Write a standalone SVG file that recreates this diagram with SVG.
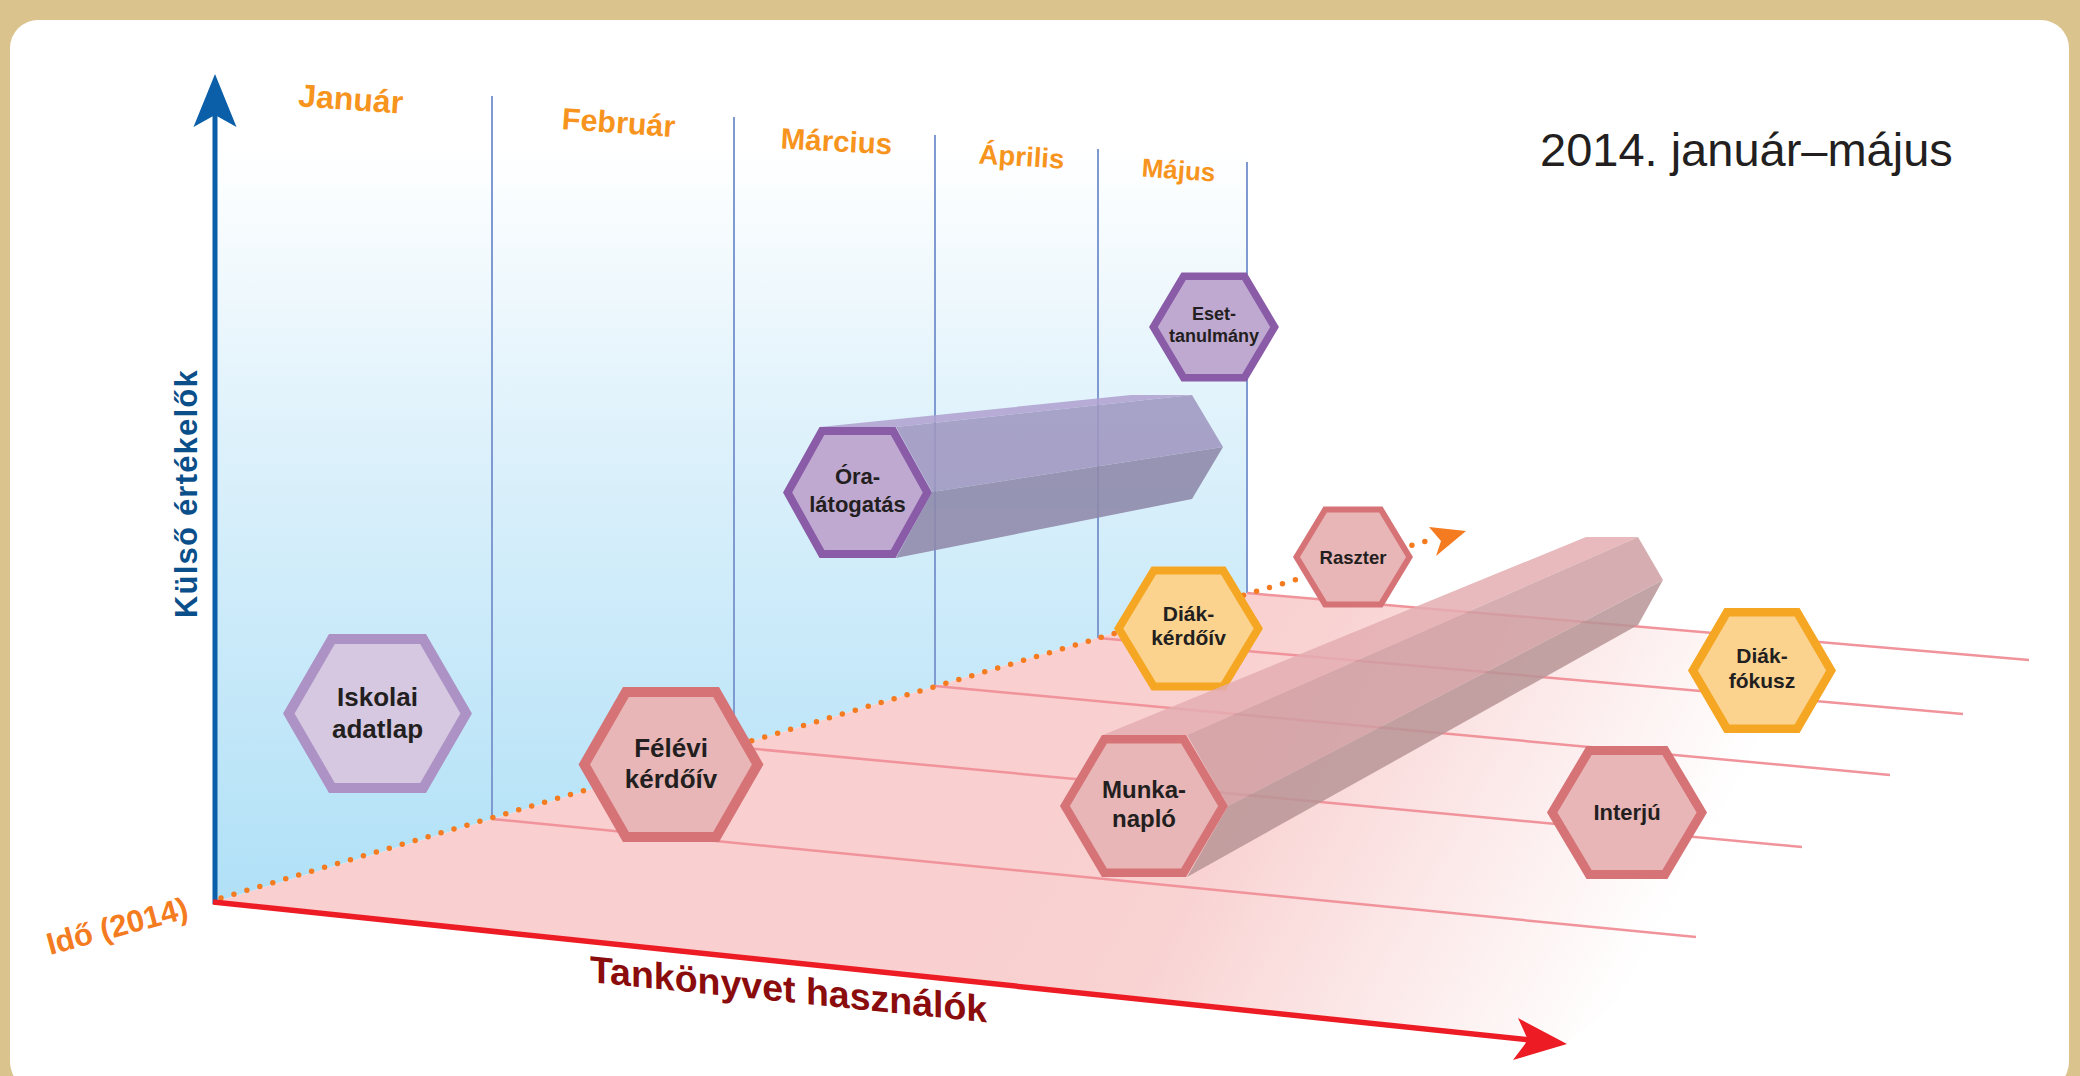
<svg xmlns="http://www.w3.org/2000/svg" width="2080" height="1076" viewBox="0 0 2080 1076">
<defs>
<linearGradient id="wallG" gradientUnits="userSpaceOnUse" x1="0" y1="150" x2="0" y2="880">
<stop offset="0" stop-color="#FFFFFF"/>
<stop offset="0.4" stop-color="#DDF1FB"/>
<stop offset="1" stop-color="#B2E1F7"/>
</linearGradient>
<linearGradient id="floorG" gradientUnits="userSpaceOnUse" x1="1100" y1="650" x2="1650" y2="950">
<stop offset="0" stop-color="#F9CFCF"/>
<stop offset="0.3" stop-color="#F9D2D2"/>
<stop offset="1" stop-color="#FFFFFF"/>
</linearGradient>
<style>
.t{font-family:"Liberation Sans",Arial,sans-serif;font-weight:bold}
.lbl{font-family:"Liberation Sans",Arial,sans-serif;font-weight:bold;fill:#231F20;text-anchor:middle}
.month{font-family:"Liberation Sans",Arial,sans-serif;font-weight:bold;fill:#F7941D;text-anchor:middle}
.vline{stroke:#7F9AD0;stroke-width:2;fill:none}
.fline{stroke:#F0939B;stroke-width:2.5;fill:none}
.hx-pink{fill:#E8B6B7;stroke:#D67376}
.hx-purple{fill:#BFA9D1;stroke:#8A5BA7}
.hx-lav{fill:#D6C8E1;stroke:#AC92C5}
.hx-orange{fill:#FBD38E;stroke:#F5A623}
</style>
</defs>

<rect x="0" y="0" width="2080" height="1076" fill="#DAC38D"/>
<rect x="10" y="20" width="2059" height="1070" rx="28" fill="#FFFFFF"/>

<g id="planes">
<polygon points="215,80 1247,80 1247,593 215,902" fill="url(#wallG)"/>
<polygon points="215,902 1247,593 2029,660 1569,1041" fill="url(#floorG)"/>
</g>

<g id="grid">
<line class="vline" x1="492" y1="96" x2="492" y2="819"/>
<line class="vline" x1="734" y1="117" x2="734" y2="747"/>
<line class="vline" x1="935" y1="135" x2="935" y2="686"/>
<line class="vline" x1="1098" y1="149" x2="1098" y2="638"/>
<line class="vline" x1="1247" y1="162" x2="1247" y2="593"/>
<line class="fline" x1="492" y1="819" x2="1696" y2="937"/>
<line class="fline" x1="734" y1="747" x2="1802" y2="847"/>
<line class="fline" x1="935" y1="686" x2="1890" y2="775"/>
<line class="fline" x1="1098" y1="638" x2="1963" y2="714"/>
<line class="fline" x1="1247" y1="593" x2="2029" y2="660"/>
</g>

<g id="connectors">
<line x1="221" y1="898" x2="1430" y2="540" stroke="#F47B20" stroke-width="5.5" stroke-linecap="round" stroke-dasharray="0 13.5"/>
<polygon points="1466,531 1429,527 1441,541 1436,556" fill="#F47B20"/>
<line x1="215" y1="904" x2="215" y2="115" stroke="#0B5EA8" stroke-width="5"/>
<polygon points="215,74 236.5,127 215,115 193.5,127" fill="#0B5EA8"/>
<line x1="213" y1="902" x2="1530" y2="1040" stroke="#ED1C24" stroke-width="5.5"/>
<polygon points="1567,1044 1518,1018 1528,1040 1513,1060" fill="#ED1C24"/>
</g>

<g id="labels">
<text class="month" font-size="32" x="350" y="110" transform="rotate(4 350 110)">Január</text>
<text class="month" font-size="30.5" x="618" y="133" transform="rotate(4 618 133)">Február</text>
<text class="month" font-size="29.5" x="836" y="151.5" transform="rotate(3 836 151.5)">Március</text>
<text class="month" font-size="27.5" x="1021" y="166" transform="rotate(3.5 1021 166)">Április</text>
<text class="month" font-size="26" x="1178" y="179" transform="rotate(4 1178 179)">Május</text>
<text x="1540" y="166" font-family="Liberation Sans, Arial, sans-serif" font-size="47" fill="#231F20">2014. január–május</text>
<text class="t" x="0" y="0" font-size="31" letter-spacing="1.2" fill="#0B4F8A" transform="translate(197 618) rotate(-90)">Külső értékelők</text>
<text class="t" x="0" y="0" font-size="31" fill="#F47B20" transform="translate(50 955) rotate(-15)">Idő (2014)</text>
<text class="t" x="0" y="0" font-size="37.5" fill="#8B0C0C" transform="translate(590 982) skewY(5.8)">Tankönyvet használók</text>
</g>

<g id="bar-purple" opacity="0.88">
<polygon points="820,427 896,427 1192,395 1131,395" fill="#B1A3D0"/>
<polygon points="896,427 932,492 1223,447 1192,395" fill="#A097C0"/>
<polygon points="932,492 896,558 1192,499 1223,447" fill="#8E88AA"/>
</g>

<g id="node-oralatogatas">
<polygon class="hx-purple" stroke-width="8" points="821.9,431 893.2,431 927.4,492.5 893.2,554 821.9,554 787.6,492.5"/>
<text class="lbl" font-size="22" x="857.5" y="484">Óra-</text>
<text class="lbl" font-size="22" x="857.5" y="512">látogatás</text>
</g>

<g id="node-esettanulmany">
<polygon class="hx-purple" stroke-width="7.5" points="1183.6,276.25 1244.4,276.25 1274.6,327 1244.4,377.75 1183.6,377.75 1153.4,327"/>
<text class="lbl" font-size="18" x="1214" y="320">Eset-</text>
<text class="lbl" font-size="18" x="1214" y="342">tanulmány</text>
</g>

<g id="node-iskolai">
<polygon class="hx-lav" stroke-width="10" points="331.9,639 423.1,639 466.2,713.5 423.1,788 331.9,788 288.8,713.5"/>
<text class="lbl" font-size="26" x="377.5" y="706">Iskolai</text>
<text class="lbl" font-size="26" x="377.5" y="738">adatlap</text>
</g>

<g id="node-felevi">
<polygon class="hx-pink" stroke-width="10" points="625.9,692 716.1,692 757.7,764.5 716.1,837 625.9,837 584.3,764.5"/>
<text class="lbl" font-size="26" x="671" y="757">Félévi</text>
<text class="lbl" font-size="26" x="671" y="788">kérdőív</text>
</g>

<g id="node-raszter">
<polygon class="hx-pink" stroke-width="6" points="1325.2,509.5 1380.8,509.5 1409.5,557 1380.8,604.5 1325.2,604.5 1296.5,557"/>
<text class="lbl" font-size="18.5" x="1353" y="564">Raszter</text>
</g>

<g id="node-diakkerdoiv">
<polygon class="hx-orange" stroke-width="8" points="1153.8,570.5 1223.2,570.5 1258.3,628.5 1223.2,686.5 1153.8,686.5 1118.7,628.5"/>
<text class="lbl" font-size="21" x="1188.5" y="621">Diák-</text>
<text class="lbl" font-size="21" x="1188.5" y="645">kérdőív</text>
</g>

<g id="node-diakfokusz">
<polygon class="hx-orange" stroke-width="8.5" points="1726.9,612.25 1797.1,612.25 1831.1,670.5 1797.1,728.75 1726.9,728.75 1692.9,670.5"/>
<text class="lbl" font-size="21" x="1762" y="663">Diák-</text>
<text class="lbl" font-size="21" x="1762" y="688">fókusz</text>
</g>

<g id="node-interju">
<polygon class="hx-pink" stroke-width="9" points="1589.1,750.5 1664.9,750.5 1701.8,812.5 1664.9,874.5 1589.1,874.5 1552.2,812.5"/>
<text class="lbl" font-size="22" x="1627" y="820">Interjú</text>
</g>

<g id="bar-pink" opacity="0.85">
<polygon points="1103,735 1187,735 1638,537 1586,537" fill="#E4AEB2"/>
<polygon points="1187,735 1228,806 1663,580 1638,537" fill="#D09FA3"/>
<polygon points="1228,806 1187,877 1638,625 1663,580" fill="#B99597"/>
</g>

<g id="node-munkanaplo">
<polygon class="hx-pink" stroke-width="8.5" points="1104.4,739.25 1183.6,739.25 1223.1,806 1183.6,872.75 1104.4,872.75 1064.9,806"/>
<text class="lbl" font-size="24" x="1144" y="798">Munka-</text>
<text class="lbl" font-size="24" x="1144" y="827">napló</text>
</g>
</svg>
